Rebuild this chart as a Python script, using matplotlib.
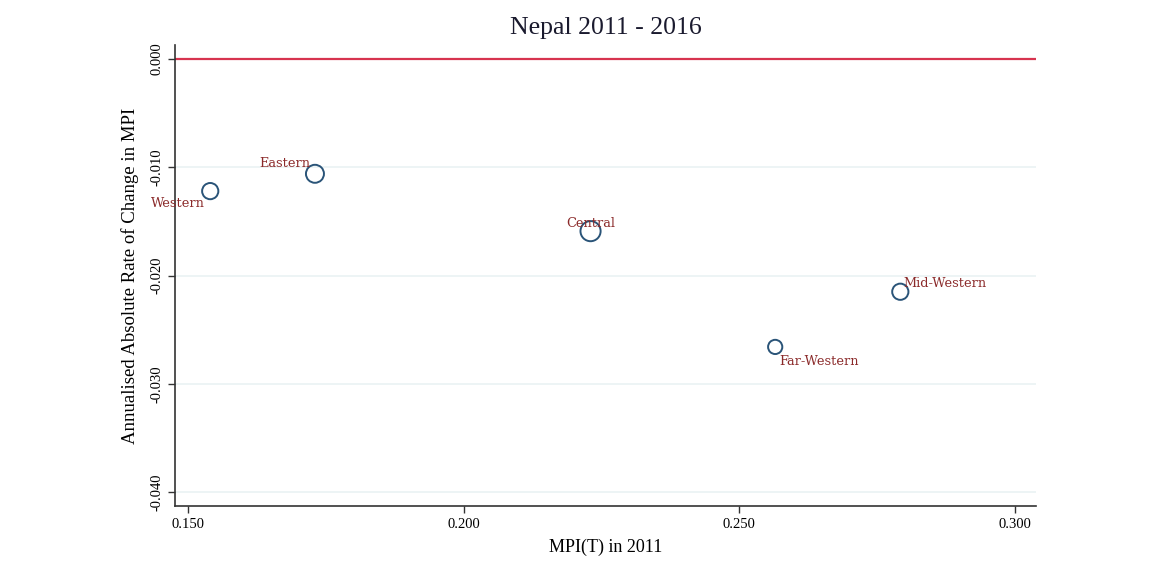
import numpy as np
import matplotlib
matplotlib.use("Agg")
import matplotlib.pyplot as plt

# Data
regions = ["Eastern", "Central", "Western", "Mid-Western", "Far-Western"]
mpi_2011 = [0.173, 0.223, 0.154, 0.2792, 0.2565]
abs_change = [-0.0106, -0.0159, -0.0122, -0.0215, -0.0266]
pop_weight = [1.6, 2.0, 1.3, 1.3, 1.0]   # relative marker weights

# label placement (offsets in points, alignment)
label_pos = {
    "Eastern": (-3, 3, "right", "bottom"),
    "Central": (0, 1, "center", "bottom"),
    "Western": (-4, -4, "right", "top"),
    "Mid-Western": (2, 1, "left", "bottom"),
    "Far-Western": (3, -6, "left", "top"),
}

plt.rcParams["font.family"] = ["Liberation Serif", "DejaVu Serif"]

fig = plt.figure(figsize=(11.51, 5.75), dpi=100)
ax = fig.add_axes([0.152, 0.12, 0.748, 0.8017])

ax.set_xlim(0.1476, 0.3038)
ax.set_ylim(-0.0413, 0.0013)

# light grid lines
for yv in [-0.01, -0.02, -0.03, -0.04]:
    ax.axhline(yv, color="#eaf2f3", lw=1.2, zorder=0)
ax.axhline(0, color="#d7344f", lw=1.6, zorder=1)

ax.scatter(mpi_2011, abs_change, s=np.array(pop_weight) * 105,
           facecolors="none", edgecolors="#2a5478", linewidths=1.4, zorder=3)

for name, x, y in zip(regions, mpi_2011, abs_change):
    dx, dy, ha, va = label_pos[name]
    ax.annotate(name, (x, y), xytext=(dx, dy), textcoords="offset points",
                ha=ha, va=va, fontsize=9.3, color="#8b2a2a", zorder=4,
                family="DejaVu Serif")

ax.set_xticks([0.15, 0.20, 0.25, 0.30])
ax.set_xticklabels(["0.150", "0.200", "0.250", "0.300"])
ax.set_yticks([0.0, -0.01, -0.02, -0.03, -0.04])
ax.set_yticklabels(["0.000", "-0.010", "-0.020", "-0.030", "-0.040"],
                   rotation=90, va="center")
ax.tick_params(labelsize=10.5, length=5, width=1, color="#333333")

for s in ["top", "right"]:
    ax.spines[s].set_visible(False)
for s in ["left", "bottom"]:
    ax.spines[s].set_color("#333333")
    ax.spines[s].set_linewidth(1.2)

ax.set_xlabel("MPI(T) in 2011", fontsize=13, labelpad=6)
ax.set_ylabel("Annualised Absolute Rate of Change in MPI", fontsize=13.5, labelpad=8)
ax.set_title("Nepal 2011 - 2016", fontsize=18.5, pad=8, color="#1a1a2e")

fig.savefig("out.png", dpi=100)
